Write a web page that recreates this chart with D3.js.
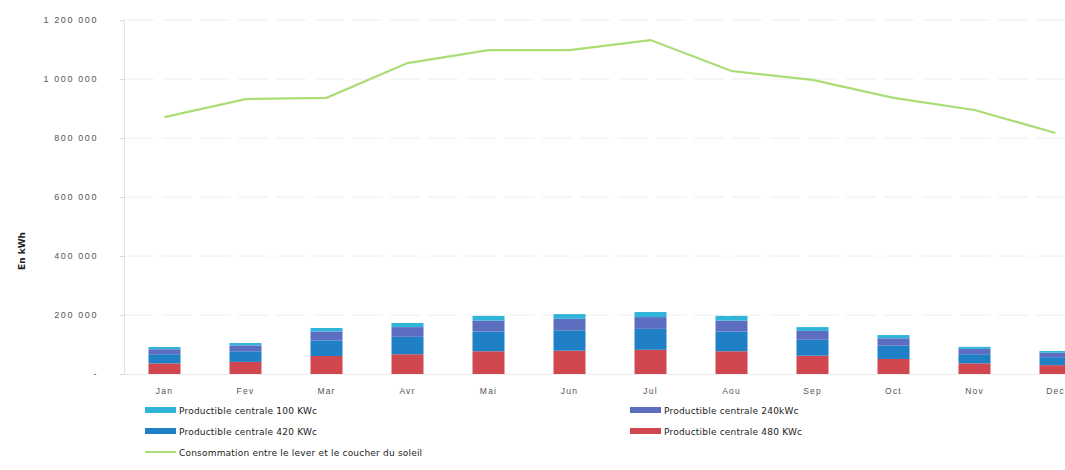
<!DOCTYPE html>
<html>
<head>
<meta charset="utf-8">
<script src="https://cdn.jsdelivr.net/npm/d3@7"></script>
<style>
  html, body { margin: 0; padding: 0; background: #fff; }
  svg { display: block; font-family: "DejaVu Sans", Verdana, sans-serif; }
</style>
</head>
<body>
<svg id="chart" width="1065" height="470"></svg>
<script>
// Monthly categories
const months = ["Jan", "Fev", "Mar", "Avr", "Mai", "Jun", "Jul", "Aou", "Sep", "Oct", "Nov", "Dec"];

// Production per plant (kWh), stacked bottom to top: 480, 420, 240, 100 KWc
const prod480 = [36000, 41000, 61000, 67000, 77000, 79000, 82000, 77000, 62000, 51000, 36000, 30000];
const prod420 = [31000, 36000, 53000, 59000, 67000, 69000, 71000, 67000, 54000, 45000, 31000, 27000];
const prod240 = [17000, 20000, 30000, 33000, 37000, 39000, 40000, 37000, 30000, 25000, 18000, 15000];
const prod100 = [7500, 8000, 12000, 14000, 16000, 16000, 17000, 16000, 13000, 11000, 7000, 6000];

// Consumption between sunrise and sunset (kWh)
const consumption = [871000, 932000, 936000, 1054000, 1098000, 1098000, 1132000, 1027000, 997000, 936000, 895000, 817000];

// Y axis ticks
const yTicks = [0, 200000, 400000, 600000, 800000, 1000000, 1200000];
const yTickLabels = ["-", "200 000", "400 000", "600 000", "800 000", "1 000 000", "1 200 000"];

const seriesNames = [
  "Productible centrale 480 KWc",
  "Productible centrale 420 KWc",
  "Productible centrale 240kWc",
  "Productible centrale 100 KWc"
];
const seriesColors = ["#d1474f", "#1f80c6", "#5d6ec0", "#30b4da"];
const lineName = "Consommation entre le lever et le coucher du soleil";
const lineColor = "#abdc76";

const svg = d3.select("#chart");

const x = d3.scaleBand().domain(months).range([124, 1096]).paddingInner(0.605).paddingOuter(0.3025);
const y = d3.scaleLinear().domain([0, 1200000]).range([374, 20]);

// Gridlines
svg.append("g")
  .selectAll("line")
  .data(yTicks.slice(1))
  .join("line")
  .attr("x1", 124).attr("x2", 1065)
  .attr("y1", d => y(d)).attr("y2", d => y(d))
  .attr("stroke", "#eeeeee")
  .attr("stroke-width", 1)
  .attr("stroke-dasharray", "30,8");

// Y axis
const yAxis = d3.axisLeft(y)
  .tickValues(yTicks)
  .tickFormat((d, i) => yTickLabels[i])
  .tickSize(4)
  .tickPadding(22);
const gy = svg.append("g").attr("transform", "translate(124,0)").call(yAxis);
gy.select(".domain").attr("stroke", "#e2e2e2");
gy.selectAll(".tick line").attr("stroke", "#d8d8d8");
gy.selectAll(".tick text")
  .style("fill", "#555")
  .attr("font-size", 9)
  .attr("letter-spacing", 1.6);

// Y axis title
svg.append("text")
  .attr("transform", "translate(25,251) rotate(-90)")
  .attr("text-anchor", "middle")
  .attr("font-size", 9)
  .attr("font-weight", "bold")
  .style("fill", "#222")
  .text("En kWh");

// Stacked bars
const table = months.map((m, i) => ({
  month: m,
  s0: prod480[i], s1: prod420[i], s2: prod240[i], s3: prod100[i]
}));
const stack = d3.stack().keys(["s0", "s1", "s2", "s3"])(table);

svg.append("g")
  .selectAll("g")
  .data(stack)
  .join("g")
  .attr("fill", (d, i) => seriesColors[i])
  .selectAll("rect")
  .data(d => d)
  .join("rect")
  .attr("x", d => x(d.data.month))
  .attr("width", x.bandwidth())
  .attr("y", d => y(d[1]))
  .attr("height", d => y(d[0]) - y(d[1]));

// X axis
const xAxis = d3.axisBottom(x).tickSize(0).tickPadding(14);
const gx = svg.append("g").attr("transform", "translate(0,374)").call(xAxis);
gx.select(".domain").attr("stroke", "#eeeeee");
gx.selectAll(".tick text")
  .style("fill", "#555")
  .attr("font-size", 8.5)
  .attr("letter-spacing", 1.2);

// Consumption line
const line = d3.line()
  .x((d, i) => x(months[i]) + x.bandwidth() / 2)
  .y(d => y(d));
svg.append("path")
  .datum(consumption)
  .attr("fill", "none")
  .attr("stroke", lineColor)
  .attr("stroke-width", 2.2)
  .attr("d", line);

// Legend
const legendItems = [
  { name: seriesNames[3], color: seriesColors[3], type: "rect", x: 145, y: 410 },
  { name: seriesNames[2], color: seriesColors[2], type: "rect", x: 630, y: 410 },
  { name: seriesNames[1], color: seriesColors[1], type: "rect", x: 145, y: 431 },
  { name: seriesNames[0], color: seriesColors[0], type: "rect", x: 630, y: 431 },
  { name: lineName, color: lineColor, type: "line", x: 145, y: 452 }
];
const lg = svg.append("g").selectAll("g").data(legendItems).join("g")
  .attr("transform", d => `translate(${d.x},${d.y})`);
lg.filter(d => d.type === "rect").append("rect")
  .attr("x", 0).attr("y", -3).attr("width", 31).attr("height", 6)
  .attr("fill", d => d.color);
lg.filter(d => d.type === "line").append("line")
  .attr("x1", 0).attr("x2", 31).attr("y1", 0).attr("y2", 0)
  .attr("stroke", d => d.color).attr("stroke-width", 2);
lg.append("text")
  .attr("x", 34).attr("y", 3.5)
  .attr("font-size", 9)
  .attr("letter-spacing", 0.2)
  .style("fill", "#222")
  .text(d => d.name);
</script>
</body>
</html>
